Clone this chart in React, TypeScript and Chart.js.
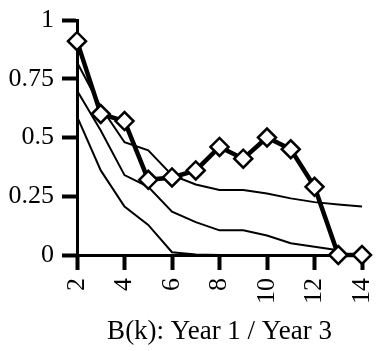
import React, { useEffect, useRef } from "react";
import { Chart, registerables } from "chart.js";

Chart.register(...registerables);

const xValues = [2, 3, 4, 5, 6, 7, 8, 9, 10, 11, 12, 13, 14];
const seriesMain = [0.91, 0.6, 0.57, 0.32, 0.33, 0.36, 0.46, 0.41, 0.5, 0.45, 0.29, 0, 0];
const seriesA = [0.82, 0.63, 0.48, 0.445, 0.34, 0.3, 0.277, 0.277, 0.262, 0.241, 0.225, 0.215, 0.206];
const seriesB = [0.7, 0.53, 0.34, 0.29, 0.184, 0.14, 0.105, 0.105, 0.083, 0.05, 0.035, 0.02, null];
const seriesC = [0.59, 0.36, 0.206, 0.128, 0.012, 0.002, 0, 0, 0, 0, 0, 0, 0];
const yTickValues = [0, 0.25, 0.5, 0.75, 1];
const yTickLabels = ["0", "0.25", "0.5", "0.75", "1"];
const xTitle = "B(k): Year 1 / Year 3";

const FONT = "'Liberation Serif', 'Times New Roman', serif";

function pts(vals: (number | null)[]) {
  return xValues.map((x, i) => ({ x, y: vals[i] }));
}

export default function App() {
  const ref = useRef<HTMLCanvasElement | null>(null);
  useEffect(() => {
    if (!ref.current) return;
    const thin = (vals: (number | null)[]) => ({
      data: pts(vals) as any,
      borderColor: "#000",
      borderWidth: 2,
      pointRadius: 0,
      tension: 0,
      clip: false as any,
      spanGaps: false,
    });
    const chart = new Chart(ref.current, {
      type: "line",
      data: {
        datasets: [
          {
            data: pts(seriesMain) as any,
            borderColor: "#000",
            borderWidth: 4.5,
            pointStyle: "rectRot",
            pointRadius: 9,
            pointBackgroundColor: "#fff",
            pointBorderColor: "#000",
            pointBorderWidth: 2.5,
            tension: 0,
            clip: false as any,
          },
          thin(seriesA),
          thin(seriesB),
          thin(seriesC),
        ],
      },
      options: {
        animation: false,
        responsive: false,
        devicePixelRatio: 1,
        layout: { padding: { top: 20, right: 16, left: 0, bottom: 0 } },
        plugins: { legend: { display: false }, tooltip: { enabled: false } },
        scales: {
          x: {
            type: "linear",
            min: 2,
            max: 14,
            border: { display: true, color: "#000", width: 3 },
            grid: {
              display: true,
              drawOnChartArea: false,
              drawTicks: true,
              tickLength: 15,
              tickWidth: 4,
              tickColor: "#000",
            },
            ticks: {
              stepSize: 2,
              autoSkip: false,
              minRotation: 90,
              maxRotation: 90,
              padding: 8,
              color: "#000",
              font: { family: FONT, size: 26 },
            },
            title: {
              display: true,
              text: xTitle,
              color: "#000",
              font: { family: FONT, size: 27 },
              padding: { top: 0, bottom: 3 },
            },
            afterFit: (s: any) => {
              s.height = 96;
              s.paddingLeft = 0;
              s.paddingRight = 0;
            },
          },
          y: {
            type: "linear",
            min: 0,
            max: 1,
            border: { display: true, color: "#000", width: 3 },
            grid: {
              display: true,
              drawOnChartArea: false,
              drawTicks: true,
              tickLength: 15,
              tickWidth: 4,
              tickColor: "#000",
            },
            afterBuildTicks: (s: any) => {
              s.ticks = yTickValues.map((v) => ({ value: v }));
            },
            ticks: {
              padding: 8,
              color: "#000",
              font: { family: FONT, size: 26 },
              callback: (v: any) => {
                const i = yTickValues.indexOf(Number(v));
                return i >= 0 ? yTickLabels[i] : "";
              },
            },
            afterFit: (s: any) => {
              s.width = 77;
              s.paddingTop = 0;
              s.paddingBottom = 0;
            },
          },
        },
      },
    });
    return () => chart.destroy();
  }, []);
  return (
    <div style={{ position: "fixed", left: 0, top: 0, width: 378, height: 351, background: "#fff" }}>
      <canvas ref={ref} width={378} height={351} style={{ display: "block", width: 378, height: 351 }} />
    </div>
  );
}
